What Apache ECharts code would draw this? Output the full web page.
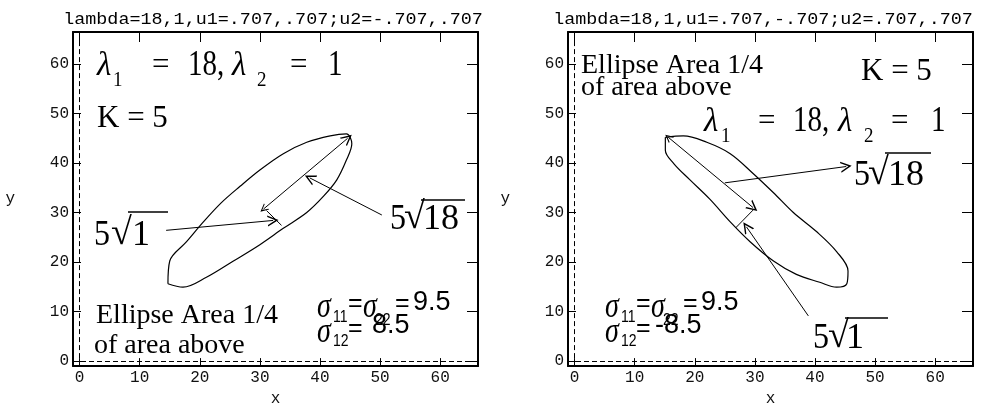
<!DOCTYPE html>
<html>
<head>
<meta charset="utf-8">
<script src="https://cdn.jsdelivr.net/npm/echarts@6/dist/echarts.min.js"></script>
<style>
  html, body { margin: 0; padding: 0; background: #fff; }
  #chart { width: 982px; height: 412px; }
</style>
</head>
<body>
<div id="chart"></div>
<script>
// ---- values ----
const tickValues = [0, 10, 20, 30, 40, 50, 60];
const xLimits = [-1.1, 66.3];
const yLimits = [-1.05, 66.5];

const panelTitles = [
  'lambda=18,1,u1=.707,.707;u2=-.707,.707',
  'lambda=18,1,u1=.707,-.707;u2=.707,.707'
];

// K = 5 contour of the bivariate normal, u1 along (1,1)
const ellipseLeft = [
  [14.7, 15.6], [15.0, 20.2], [17.8, 24.1], [20.6, 28.1], [23.6, 32.0],
  [26.7, 35.3], [30.0, 38.6], [33.9, 41.9], [37.8, 44.2], [41.7, 45.5],
  [44.4, 45.9], [45.3, 43.9], [44.4, 40.6], [42.8, 36.6], [40.6, 33.3],
  [37.8, 30.0], [33.9, 26.8], [30.0, 23.5], [25.6, 20.2], [21.1, 16.9],
  [17.2, 14.9], [14.7, 15.6]
];
// same contour with u1 along (1,-1)
const ellipseRight = [
  [15.1, 45.2], [18.1, 45.5], [22.0, 44.2], [25.9, 41.9], [29.7, 37.9],
  [33.1, 34.0], [36.4, 30.0], [40.3, 26.1], [43.6, 22.1], [45.5, 18.2],
  [45.3, 15.6], [43.6, 14.9], [40.8, 15.9], [36.9, 17.5], [33.1, 20.2],
  [29.2, 24.1], [25.9, 28.1], [22.5, 32.7], [19.2, 36.6], [16.5, 39.9],
  [15.1, 42.6], [15.1, 45.2]
];

// half axes and label pointers: [start, end]
const majorAxisLeft = [[30.6, 30.7], [44.6, 45.0]];
const minorAxisLeft = [[31.1, 30.4], [33.6, 27.4]];
const pointerRootOneLeft = [[14.4, 26.4], [32.2, 28.4]];
const pointerRootEighteenLeft = [[50.3, 29.5], [38.3, 37.0]];

const majorAxisRight = [[15.6, 45.2], [29.7, 31.0]];
const minorAxisRight = [[29.7, 30.5], [26.8, 26.9]];
const pointerRootOneRight = [[38.9, 9.1], [28.6, 27.1]];
const pointerRootEighteenRight = [[25.0, 36.0], [45.2, 39.3]];

const varianceText = '9.5';
const covarianceText = ['8.5', '-8.5'];

// ---- styling helpers ----
const MONO = 'Liberation Mono';
const SERIF = 'Liberation Serif';
const SANS = 'Liberation Sans';
const ARROW = 'path://M5,0 L10,14 L8.6,14 L5,4.2 L1.4,14 L0,14 Z';

const grids = [
  { left: 73, top: 32, width: 405, height: 342 },
  { left: 568, top: 32, width: 405, height: 342 }
];

const xAxes = [], yAxes = [];
grids.forEach((g, p) => {
  const base = {
    gridIndex: p, type: 'value', min: xLimits[0], max: xLimits[1],
    splitLine: { show: false },
    axisLine: { show: true, onZero: false, lineStyle: { color: '#000', width: 2 } }
  };
  const tickLabel = { customValues: tickValues, fontFamily: MONO, fontSize: 16, color: '#111', margin: 4 };
  xAxes.push(Object.assign({}, base, {
    position: 'bottom',
    axisTick: { show: true, inside: true, length: 8, customValues: tickValues, lineStyle: { color: '#000', width: 1 } },
    axisLabel: tickLabel,
    name: 'x', nameLocation: 'middle', nameGap: 22,
    nameTextStyle: { fontFamily: MONO, fontSize: 16, color: '#111' }
  }));
  xAxes.push(Object.assign({}, base, {
    position: 'top',
    axisTick: { show: true, inside: true, length: 10, customValues: tickValues, lineStyle: { color: '#000', width: 1 } },
    axisLabel: { show: false }
  }));
  const ybase = Object.assign({}, base, { min: yLimits[0], max: yLimits[1] });
  yAxes.push(Object.assign({}, ybase, {
    position: 'left',
    axisTick: { show: true, inside: true, length: 8, customValues: tickValues, lineStyle: { color: '#000', width: 1 } },
    axisLabel: tickLabel,
    name: 'y', nameLocation: 'middle', nameGap: 58, nameRotate: 0,
    nameTextStyle: { fontFamily: MONO, fontSize: 16, color: '#111' }
  }));
  yAxes.push(Object.assign({}, ybase, {
    position: 'right',
    axisTick: { show: true, inside: true, length: 11, customValues: tickValues, lineStyle: { color: '#000', width: 1 } },
    axisLabel: { show: false }
  }));
});

function panelSeries(p, ellipse, major, minor, pointers) {
  const ax = { xAxisIndex: 2 * p, yAxisIndex: 2 * p };
  const thin = { color: '#000', width: 1, opacity: 1 };
  return [
    Object.assign({
      type: 'lines', coordinateSystem: 'cartesian2d', silent: true, symbol: 'none',
      lineStyle: { color: '#000', width: 1, type: [5, 3], opacity: 1 },
      data: [
        { coords: [[0, yLimits[0]], [0, yLimits[1]]] },
        { coords: [[xLimits[0], 0], [xLimits[1], 0]] }
      ]
    }, ax),
    Object.assign({
      type: 'line', silent: true, showSymbol: false, smooth: 0.35,
      lineStyle: { color: '#000', width: 1.2 }, data: ellipse
    }, ax),
    Object.assign({
      type: 'lines', coordinateSystem: 'cartesian2d', silent: true,
      symbol: [ARROW, ARROW], symbolSize: [8, 11], lineStyle: thin,
      data: [{ coords: major }]
    }, ax),
    Object.assign({
      type: 'lines', coordinateSystem: 'cartesian2d', silent: true,
      symbol: 'none', lineStyle: thin, data: [{ coords: minor }]
    }, ax),
    Object.assign({
      type: 'lines', coordinateSystem: 'cartesian2d', silent: true,
      symbol: ['none', ARROW], symbolSize: [8, 11], lineStyle: thin,
      data: pointers.map(c => ({ coords: c }))
    }, ax)
  ];
}

const series = [].concat(
  panelSeries(0, ellipseLeft, majorAxisLeft, minorAxisLeft, [pointerRootOneLeft, pointerRootEighteenLeft]),
  panelSeries(1, ellipseRight, majorAxisRight, minorAxisRight, [pointerRootOneRight, pointerRootEighteenRight])
);

// ---- annotation text ----
function txt(x, y, text, size, family, extra, sy) {
  return {
    type: 'text', x: x, y: y, scaleY: sy || 1, silent: true, z: 100,
    style: Object.assign({
      text: text, fontSize: size, fontFamily: family, fill: '#000',
      align: 'left', verticalAlign: 'middle', textAlign: 'left', textVerticalAlign: 'middle'
    }, extra || {})
  };
}
function bar(x1, x2, y) {
  return { type: 'line', silent: true, z: 100, shape: { x1: x1, y1: y, x2: x2, y2: y }, style: { stroke: '#000', lineWidth: 1.5 } };
}
const IT = { fontStyle: 'italic' };

function lambdaRow(x0, y, offs) {
  return [
    txt(x0, y, 'λ', 33, SERIF, IT),
    txt(x0 + offs[0], y + 14, '1', 19, SERIF, null, 1.15),
    txt(x0 + offs[1], y, '=', 31, SERIF),
    txt(x0 + offs[2], y, '18,', 29, SERIF, null, 1.2),
    txt(x0 + offs[3], y, 'λ', 33, SERIF, IT),
    txt(x0 + offs[4], y + 14, '2', 19, SERIF, null, 1.15),
    txt(x0 + offs[5], y, '=', 31, SERIF),
    txt(x0 + offs[6], y, '1', 29, SERIF, null, 1.2)
  ];
}
function radical(x5, xr, xd, xEnd, y, barY, digits) {
  return [
    txt(x5, y, '5', 32, SERIF, null, 1.1),
    txt(xr, y - 2, '√', 38, SERIF),
    txt(xd, y, digits, 36, SERIF, null, 1.0),
    bar(xr + 17, xEnd, barY)
  ];
}
function sigmaBlock(x0, cov, covOffset) {
  const S = { fontStyle: 'italic' };
  return [
    txt(x0, 307, 'σ', 28, SERIF, S, 1.3),
    txt(x0 + 16, 318, '11', 14, SANS, null, 1.15),
    txt(x0 + 31, 304, '=', 25, SANS),
    txt(x0 + 46, 307, 'σ', 28, SERIF, S, 1.3),
    txt(x0 + 58, 321, '22', 14, SANS, null, 1.15),
    txt(x0 + 78, 304, '=', 25, SANS),
    txt(x0 + 96, 303, varianceText, 27, SANS),
    txt(x0, 332, 'σ', 28, SERIF, S, 1.3),
    txt(x0 + 16, 342, '12', 14, SANS, null, 1.15),
    txt(x0 + 31, 329, '=', 25, SANS),
    txt(x0 + covOffset, 326, cov, 27, SANS)
  ];
}

function title(cx, text) {
  return { type: 'text', x: cx, y: 20, scaleX: 1.15, silent: true,
    style: { text: text, fontSize: 16, fontFamily: MONO, fill: '#000',
      align: 'center', verticalAlign: 'middle', textAlign: 'center', textVerticalAlign: 'middle' } };
}

const graphics = [].concat(
  [title(273, panelTitles[0]), title(763, panelTitles[1])],
  // left panel
  lambdaRow(97, 66, [16, 55, 91, 135, 160, 193, 231]),
  [txt(97, 118, 'K = 5', 31, SERIF, null, 1.05)],
  radical(94, 111, 132, 168, 236, 212, '1'),
  radical(390, 404, 423, 465, 220, 200, '18'),
  [txt(96, 316, 'Ellipse Area 1/4', 28, SERIF), txt(94, 346, 'of area above', 28, SERIF)],
  sigmaBlock(317, covarianceText[0], 55),
  // right panel
  [txt(581, 66, 'Ellipse Area 1/4', 28, SERIF), txt(581, 88, 'of area above', 28, SERIF)],
  [txt(861, 71, 'K = 5', 31, SERIF, null, 1.05)],
  lambdaRow(704, 122, [17, 54, 89, 134, 160, 187, 227]),
  radical(854, 868, 888, 931, 176, 153, '18'),
  radical(813, 828, 846, 888, 339, 318, '1'),
  sigmaBlock(605, covarianceText[1], 50)
);

const chart = echarts.init(document.getElementById('chart'), null, { renderer: 'canvas' });
chart.setOption({
  animation: false,
  backgroundColor: '#fff',
  grid: grids,
  xAxis: xAxes,
  yAxis: yAxes,
  series: series,
  graphic: graphics
});
</script>
</body>
</html>
